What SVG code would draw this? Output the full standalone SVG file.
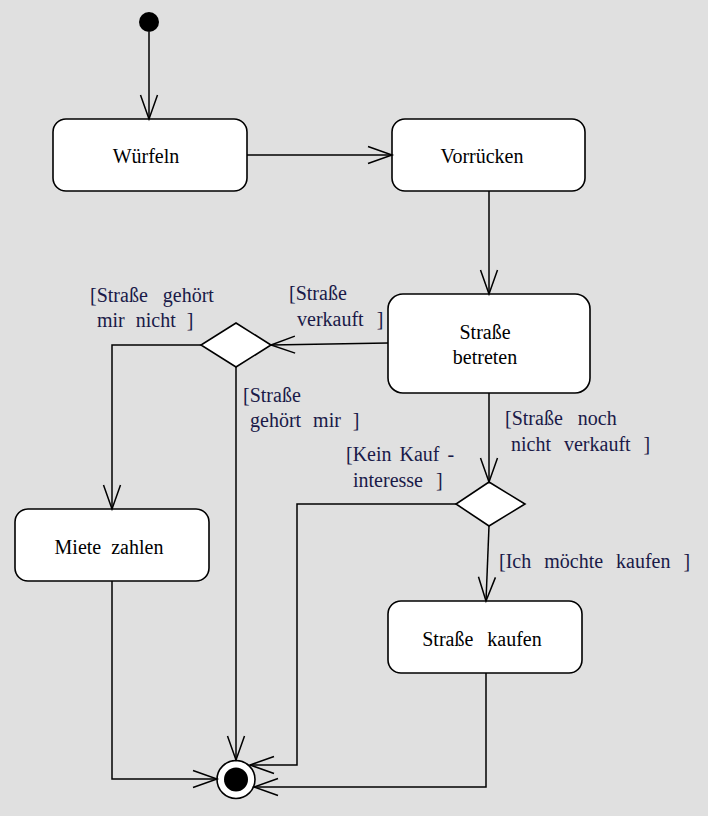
<svg xmlns="http://www.w3.org/2000/svg" width="708" height="816" viewBox="0 0 708 816">
<defs>
<marker id="arr" markerUnits="userSpaceOnUse" markerWidth="30" markerHeight="20" viewBox="-26 -10 30 20" refX="0" refY="0" orient="auto">
<path d="M-24,-8.5 L0,0 L-24,8.5" fill="none" stroke="#000" stroke-width="1.5"/>
</marker>
</defs>
<style>
.bg{fill:#e0e0e0}
.st{fill:#fff;stroke:#000;stroke-width:1.6}
.lbl{font-family:"Liberation Serif","Times New Roman",serif;font-size:20px;fill:#000;text-anchor:middle}
.g{font-family:"Liberation Serif","Times New Roman",serif;font-size:20px;fill:#1a1a48;word-spacing:6px}
.c{fill:none;stroke:#000;stroke-width:1.5;marker-end:url(#arr)}
</style>
<rect class="bg" x="0" y="0" width="708" height="816"/>
<g id="start"><circle cx="149" cy="22" r="10" fill="#000"/></g>
<g id="wuerfeln"><rect class="st" x="53" y="119" width="194" height="72" rx="13"/><text class="lbl" x="146" y="163">Würfeln</text></g>
<g id="vorruecken"><rect class="st" x="392" y="119" width="193" height="72" rx="13"/><text class="lbl" x="482" y="163">Vorrücken</text></g>
<g id="strasse-betreten"><rect class="st" x="388" y="294" width="202" height="99" rx="15"/><text class="lbl" x="485" y="339">Straße</text><text class="lbl" x="485" y="364">betreten</text></g>
<g id="decision1"><polygon class="st" points="236,323 271,345 236,367 201,345"/></g>
<g id="decision2"><polygon class="st" points="489,482 525,504 489,526 456,504"/></g>
<g id="miete-zahlen"><rect class="st" x="15" y="509" width="194" height="72" rx="13"/><text class="lbl" x="109" y="554" style="word-spacing:5px">Miete zahlen</text></g>
<g id="strasse-kaufen"><rect class="st" x="388" y="601" width="194" height="72" rx="13"/><text class="lbl" x="482" y="646" style="word-spacing:9px">Straße kaufen</text></g>
<g id="end"><circle cx="236" cy="779.5" r="19" fill="#fff" stroke="#000" stroke-width="1.6"/><circle cx="236" cy="779.5" r="12" fill="#000"/></g>
<g id="connectors">
<path class="c" d="M149,32 V119"/>
<path class="c" d="M247,155 H392"/>
<path class="c" d="M489,191 V294"/>
<path class="c" d="M388,343 L271,345"/>
<path class="c" d="M201,345 H112 V509"/>
<path class="c" d="M236,367 V760"/>
<path class="c" d="M489,393 V482"/>
<path class="c" d="M456,504 H297 V765 H250"/>
<path class="c" d="M489,526 L486,601"/>
<path class="c" d="M112,581 V779 H217"/>
<path class="c" d="M486,673 V787 H254"/>
</g>
<g id="guards">
<text class="g" x="90" y="302" style="word-spacing:10px">[Straße gehört</text>
<text class="g" x="97" y="327">mir nicht ]</text>
<text class="g" x="289" y="300">[Straße</text>
<text class="g" x="297" y="326" style="word-spacing:8px">verkauft ]</text>
<text class="g" x="243" y="402">[Straße</text>
<text class="g" x="250" y="427" style="word-spacing:7px">gehört mir ]</text>
<text class="g" x="505" y="425" style="word-spacing:10px">[Straße noch</text>
<text class="g" x="511" y="451" style="word-spacing:8px">nicht verkauft ]</text>
<text class="g" x="346" y="461" style="word-spacing:3px">[Kein Kauf -</text>
<text class="g" x="353" y="487" style="word-spacing:8px">interesse ]</text>
<text class="g" x="499" y="568" style="word-spacing:8px">[Ich möchte kaufen ]</text>
</g>
</svg>
